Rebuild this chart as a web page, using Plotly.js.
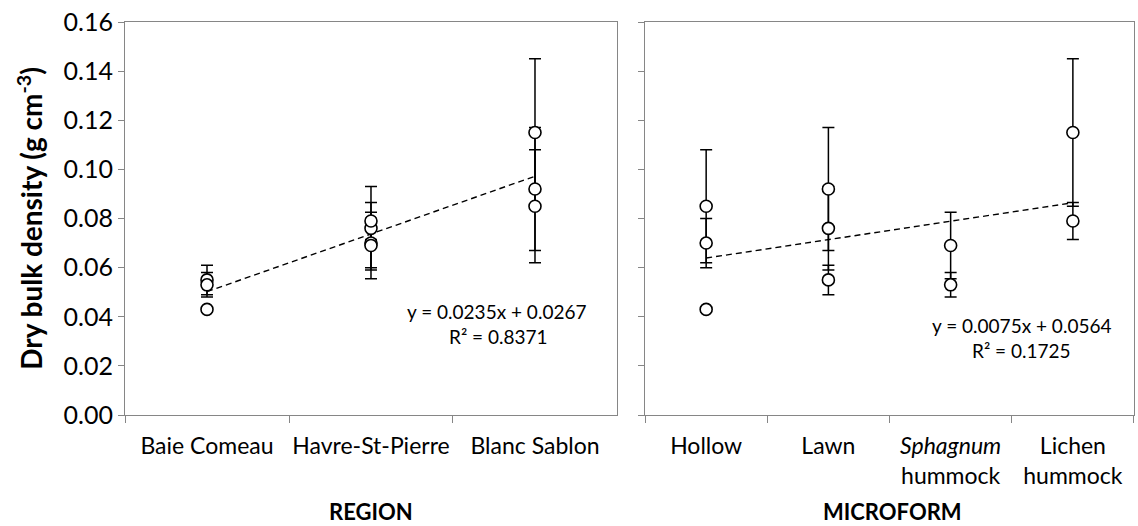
<!DOCTYPE html>
<html>
<head>
<meta charset="utf-8">
<script src="https://cdn.plot.ly/plotly-3.0.1.min.js"></script>
<style>
  html, body { margin: 0; padding: 0; background: #fff; }
  #chart { width: 1138px; height: 526px; }
</style>
</head>
<body>
<div id="chart"></div>
<script>
// ---- Data ----
const regionCategories = ['Baie Comeau', 'Havre-St-Pierre', 'Blanc Sablon'];
const regionPointCategory = ['Baie Comeau', 'Baie Comeau', 'Baie Comeau',
  'Havre-St-Pierre', 'Havre-St-Pierre', 'Havre-St-Pierre', 'Havre-St-Pierre',
  'Blanc Sablon', 'Blanc Sablon', 'Blanc Sablon'];
const regionValues = [0.043, 0.055, 0.053, 0.070, 0.076, 0.069, 0.079, 0.085, 0.092, 0.115];
const regionErrors = [0.001, 0.006, 0.005, 0.010, 0.017, 0.0135, 0.0075, 0.023, 0.025, 0.030];

const microCategories = ['Hollow', 'Lawn', '<i>Sphagnum</i><br>hummock', 'Lichen<br>hummock'];
const microPointCategory = ['Hollow', 'Hollow', 'Hollow',
  'Lawn', 'Lawn', 'Lawn',
  '<i>Sphagnum</i><br>hummock', '<i>Sphagnum</i><br>hummock',
  'Lichen<br>hummock', 'Lichen<br>hummock'];
const microValues = [0.043, 0.070, 0.085, 0.055, 0.076, 0.092, 0.053, 0.069, 0.079, 0.115];
const microErrors = [0.001, 0.010, 0.023, 0.006, 0.017, 0.025, 0.005, 0.0135, 0.0075, 0.030];

// regression fits shown on the chart
const regionFit = { slope: 0.0235, intercept: 0.0267, r2: '0.8371' };
const microFit  = { slope: 0.0075, intercept: 0.0564, r2: '0.1725' };

const yTickVals = [0, 0.02, 0.04, 0.06, 0.08, 0.10, 0.12, 0.14, 0.16];

// ---- Traces ----
const FONT = 'Lato, "Open Sans", sans-serif';
const markerStyle = { symbol: 'circle', size: 12, color: '#ffffff', line: { color: '#000', width: 1.6 } };
const errStyle = (arr) => ({ type: 'data', array: arr, symmetric: true, visible: true, color: '#000', thickness: 1.5, width: 6 });

function fitLine(cats, fit, xa, ya) {
  const n = cats.length;
  return {
    x: [cats[0], cats[n - 1]],
    y: [fit.slope * 1 + fit.intercept, fit.slope * n + fit.intercept],
    xaxis: xa, yaxis: ya, mode: 'lines', type: 'scatter', hoverinfo: 'skip',
    line: { color: '#000', width: 1.4, dash: '6px,4px' }, showlegend: false
  };
}

const traces = [
  fitLine(regionCategories, regionFit, 'x', 'y'),
  fitLine(microCategories, microFit, 'x2', 'y2'),
  {
    x: regionPointCategory, y: regionValues, error_y: errStyle(regionErrors),
    xaxis: 'x', yaxis: 'y', mode: 'markers', type: 'scatter',
    marker: markerStyle, showlegend: false, cliponaxis: false
  },
  {
    x: microPointCategory, y: microValues, error_y: errStyle(microErrors),
    xaxis: 'x2', yaxis: 'y2', mode: 'markers', type: 'scatter',
    marker: markerStyle, showlegend: false, cliponaxis: false
  }
];

const axisLine = '#868686';
const xBase = {
  type: 'category', showline: true, linecolor: axisLine, linewidth: 1, mirror: true,
  ticks: 'outside', tickson: 'boundaries', ticklen: 7, tickcolor: axisLine, tickwidth: 1,
  ticklabelstandoff: 10, tickangle: 0,
  showgrid: false, zeroline: false, fixedrange: true,
  tickfont: { family: FONT, size: 23, color: '#000' }
};
const yBase = {
  range: [0, 0.16], tickvals: yTickVals, tickformat: '.2f',
  showline: true, linecolor: axisLine, linewidth: 1, mirror: true,
  ticks: 'outside', ticklen: 6, tickcolor: axisLine, tickwidth: 1,
  showgrid: false, zeroline: false, fixedrange: true,
  tickfont: { family: FONT, size: 25, color: '#000' }
};

const eqFont = { family: FONT, size: 19, color: '#000' };
const titleFont = { family: FONT, size: 22, color: '#000' };

const layout = {
  width: 1138, height: 526,
  margin: { l: 125, r: 4, t: 22, b: 111 },
  paper_bgcolor: '#fff', plot_bgcolor: '#fff',
  font: { family: FONT, color: '#000' },
  showlegend: false,
  xaxis: Object.assign({}, xBase, { domain: [0, 0.4876], categoryarray: regionCategories, categoryorder: 'array', range: [-0.5, 2.5] }),
  xaxis2: Object.assign({}, xBase, { domain: [0.5154, 1], categoryarray: microCategories, categoryorder: 'array', range: [-0.5, 3.5] }),
  yaxis: Object.assign({}, yBase, {
    anchor: 'x',
    title: { text: '<b>Dry bulk density (g cm<sup>-3</sup>)</b>', font: { family: FONT, size: 28, color: '#000' }, standoff: 12 }
  }),
  yaxis2: Object.assign({}, yBase, { anchor: 'x2', showticklabels: false }),
  annotations: [
    { xref: 'x', yref: 'y', x: 2, y: 0.0423, text: 'y = 0.0235x + 0.0267', showarrow: false, xanchor: 'center', yanchor: 'middle', xshift: -38, font: eqFont },
    { xref: 'x', yref: 'y', x: 2, y: 0.0321, text: 'R² = ' + regionFit.r2, showarrow: false, xanchor: 'center', yanchor: 'middle', xshift: -36, font: eqFont },
    { xref: 'x2', yref: 'y2', x: 2.5, y: 0.0366, text: 'y = 0.0075x + 0.0564', showarrow: false, xanchor: 'center', yanchor: 'middle', xshift: 10, font: eqFont },
    { xref: 'x2', yref: 'y2', x: 2.5, y: 0.0264, text: 'R² = ' + microFit.r2, showarrow: false, xanchor: 'center', yanchor: 'middle', xshift: 10, font: eqFont },
    { xref: 'paper', yref: 'paper', x: 0.2438, y: -0.2468, text: '<b>REGION</b>', showarrow: false, xanchor: 'center', yanchor: 'middle', font: titleFont },
    { xref: 'paper', yref: 'paper', x: 0.7606, y: -0.2468, text: '<b>MICROFORM</b>', showarrow: false, xanchor: 'center', yanchor: 'middle', font: titleFont }
  ]
};

Plotly.newPlot('chart', traces, layout, { displayModeBar: false, staticPlot: true });
</script>
</body>
</html>
